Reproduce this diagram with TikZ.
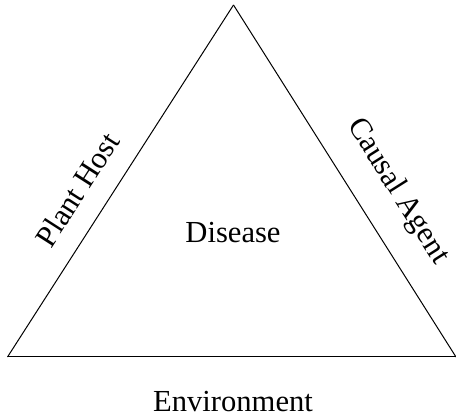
\documentclass[tikz,border=0pt]{standalone}
\usepackage{fontspec}
\setmainfont{Liberation Serif}
\usepackage{tikz}
\usetikzlibrary{positioning}
\tikzstyle{sideText} = [sloped, font=\fontsize{15.3}{18}\selectfont]
\tikzstyle{plainText} = [font=\fontsize{15.3}{18}\selectfont]
\tikzstyle{edge} = [line width=0.5pt, line join=miter]

\begin{document}
\begin{tikzpicture}[x=1pt, y=1pt]
                            \useasboundingbox (0,0) rectangle (228,208.5);
                            \coordinate (top) at (116.75,206);
                            \coordinate (left) at (3.75,30);
                            \coordinate (right) at (228,30);
                            \node (disease) [plainText] at (116.5,92.25) {Disease};
                            \node (env) [plainText] at (116.5,7.75) {Environment};
                            \draw [edge] (left) -- node (host) [sideText, pos=0.427, above=6.9pt] {Plant Host} (top);
                            \draw [edge] (top) -- node (agent) [sideText, pos=0.589, above=9pt] {Causal Agent} (right);
                            \draw [edge] (right) -- (left);
                        \end{tikzpicture}
\end{document}
